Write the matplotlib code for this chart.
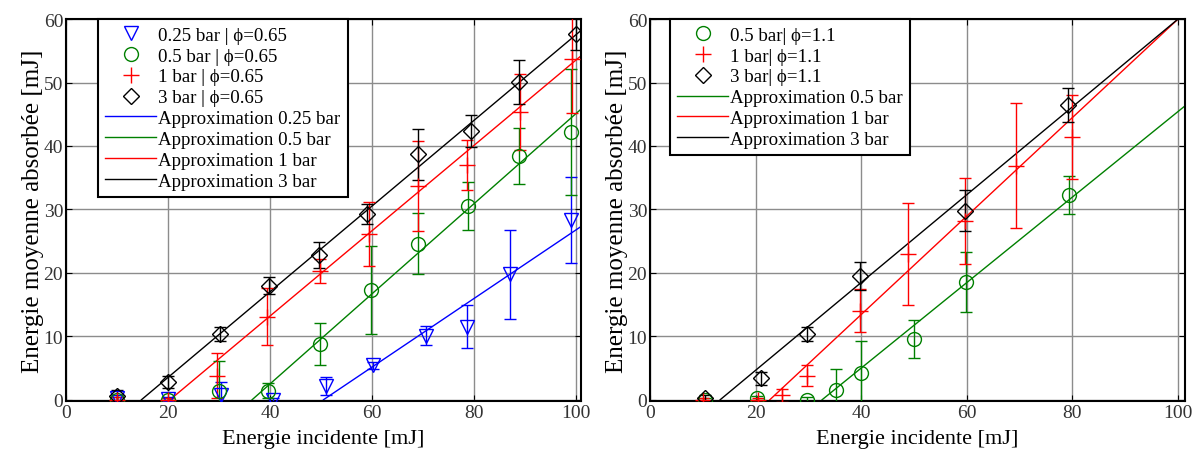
import numpy as np
import matplotlib
matplotlib.use("Agg")
import matplotlib.pyplot as plt

plt.rcParams['font.family'] = ['Liberation Serif', 'DejaVu Serif']
plt.rcParams['mathtext.fontset'] = 'dejavuserif'

# ---- left panel: phi = 0.65 ----
x_025 = [10, 20, 30.4, 40.6, 51, 60.2, 70.6, 78.6, 87, 99]
y_025 = [0.2, 0.1, 0.8, 0.0, 2.2, 5.4, 10.1, 11.5, 19.8, 28.3]
e_025 = [0.5, 0.3, 2.0, 0.3, 1.4, 0.6, 1.5, 3.4, 7.0, 6.8]

x_05 = [10, 20, 30, 39.6, 49.8, 59.9, 69, 78.8, 88.8, 99]
y_05 = [0.0, 0.0, 1.4, 1.4, 8.8, 17.3, 24.6, 30.5, 38.4, 42.2]
e_05 = [0.5, 0.3, 4.7, 1.2, 3.3, 7.0, 4.8, 3.8, 4.4, 10.0]

x_1 = [10, 20, 29.6, 39.4, 49.8, 59.5, 69, 78.6, 89, 99.2]
y_1 = [0.0, 0.0, 3.8, 13.1, 20.3, 26.1, 33.7, 37.0, 45.3, 53.7]
e_1 = [0.5, 0.3, 3.6, 4.5, 1.9, 5.0, 7.1, 3.9, 6.0, 8.5]

x_3 = [10, 20, 30.2, 39.8, 49.6, 59, 69, 79.4, 88.8, 100]
y_3 = [0.6, 2.8, 10.3, 18.0, 22.8, 29.3, 38.7, 42.4, 50.1, 57.6]
e_3 = [1.0, 0.9, 1.1, 1.3, 2.1, 1.6, 4.0, 2.5, 3.5, 2.5]

# approximation lines (end points)
fit_025_x, fit_025_y = [50.5, 101], [0, 27.3]
fit_05_x, fit_05_y = [36.5, 101], [0, 45.8]
fit_1_x, fit_1_y = [20.4, 101], [0, 54.2]
fit_3_x, fit_3_y = [14.8, 101], [0, 58.2]

# ---- right panel: phi = 1.1 ----
xr_05 = [10.4, 20.2, 29.7, 35.2, 40, 50, 59.8, 79.4]
yr_05 = [0.0, 0.3, 0.0, 1.6, 4.2, 9.6, 18.6, 32.3]
er_05 = [0.3, 0.3, 0.5, 3.3, 5.0, 3.0, 4.7, 3.0]

xr_1 = [10, 20.5, 25.1, 29.7, 39.8, 48.9, 59.7, 69.3, 79.9]
yr_1 = [0.0, 0.0, 0.7, 3.8, 14.0, 23.0, 28.2, 36.9, 41.4]
er_1 = [0.3, 0.3, 1.0, 1.6, 3.4, 8.0, 6.8, 9.9, 6.6]

xr_3 = [10.4, 21, 29.7, 39.8, 59.6, 79.1]
yr_3 = [0.3, 3.4, 10.4, 19.5, 29.8, 46.5]
er_3 = [0.5, 1.0, 1.1, 2.2, 3.2, 2.7]

fitr_05_x, fitr_05_y = [32.6, 101.3], [0, 46.3]
fitr_1_x, fitr_1_y = [22.7, 100], [0, 60]
fitr_3_x, fitr_3_y = [13.3, 100], [0, 60]

GREEN = (0, 0.5, 0)
xticks = [0, 20, 40, 60, 80, 100]
yticks = [0, 10, 20, 30, 40, 50, 60]


def series(ax, x, y, e, color, marker, ms, label):
    ax.errorbar(x, y, yerr=e, fmt='none', ecolor=color, elinewidth=1.0,
                capsize=4, capthick=1.0, zorder=3)
    h, = ax.plot(x, y, linestyle='none', marker=marker, ms=ms, mfc='none',
                 mec=color, mew=1.0, label=label, zorder=4)
    return h


def style(ax, xmax):
    ax.set_xlim(0, xmax)
    ax.set_ylim(-0.2, 60)
    ax.set_xticks(xticks)
    ax.set_yticks(yticks)
    ax.grid(True, color='#8c8c8c', linewidth=1.0)
    ax.set_axisbelow(True)
    ax.tick_params(direction='in', top=True, right=True, length=4,
                   labelsize=14, labelcolor='#333333', pad=2)
    for s in ax.spines.values():
        s.set_linewidth(1.5)
    ax.set_xlabel('Energie incidente [mJ]', fontsize=16, labelpad=6)
    ax.set_ylabel('Energie moyenne absorbée [mJ]', fontsize=18, labelpad=0)


def add_legend(ax, handles, xoff):
    leg = ax.legend(handles=handles, loc='upper left',
                    bbox_to_anchor=(xoff, 1.0), borderaxespad=0, fontsize=13.6,
                    fancybox=False, framealpha=1, edgecolor='black',
                    handlelength=2.7, handletextpad=0.1, labelspacing=0.19,
                    borderpad=0.4)
    leg.get_frame().set_linewidth(1.5)
    return leg


fig = plt.figure(figsize=(11.93, 4.52), dpi=100)
ax1 = fig.add_axes([0.0553, 0.1106, 0.4317, 0.845])
ax2 = fig.add_axes([0.5448, 0.1106, 0.4484, 0.845])

# left
h1 = series(ax1, x_025, y_025, e_025, 'blue', 'v', 10, '0.25 bar | ϕ=0.65')
h2 = series(ax1, x_05, y_05, e_05, GREEN, 'o', 10, '0.5 bar | ϕ=0.65')
h3 = series(ax1, x_1, y_1, e_1, 'red', '+', 11, '1 bar | ϕ=0.65')
h4 = series(ax1, x_3, y_3, e_3, 'black', 'D', 8, '3 bar | ϕ=0.65')
l1, = ax1.plot(fit_025_x, fit_025_y, color='blue', lw=1, label='Approximation 0.25 bar')
l2, = ax1.plot(fit_05_x, fit_05_y, color=GREEN, lw=1, label='Approximation 0.5 bar')
l3, = ax1.plot(fit_1_x, fit_1_y, color='red', lw=1, label='Approximation 1 bar')
l4, = ax1.plot(fit_3_x, fit_3_y, color='black', lw=1, label='Approximation 3 bar')
style(ax1, 101)
add_legend(ax1, [h1, h2, h3, h4, l1, l2, l3, l4], 0.062)

# right
g1 = series(ax2, xr_05, yr_05, er_05, GREEN, 'o', 10, '0.5 bar| ϕ=1.1')
g2 = series(ax2, xr_1, yr_1, er_1, 'red', '+', 11, '1 bar| ϕ=1.1')
g3 = series(ax2, xr_3, yr_3, er_3, 'black', 'D', 8, '3 bar| ϕ=1.1')
m1, = ax2.plot(fitr_05_x, fitr_05_y, color=GREEN, lw=1, label='Approximation 0.5 bar')
m2, = ax2.plot(fitr_1_x, fitr_1_y, color='red', lw=1, label='Approximation 1 bar')
m3, = ax2.plot(fitr_3_x, fitr_3_y, color='black', lw=1, label='Approximation 3 bar')
style(ax2, 101.3)
add_legend(ax2, [g1, g2, g3, m1, m2, m3], 0.037)

fig.savefig('out.png', dpi=100)
